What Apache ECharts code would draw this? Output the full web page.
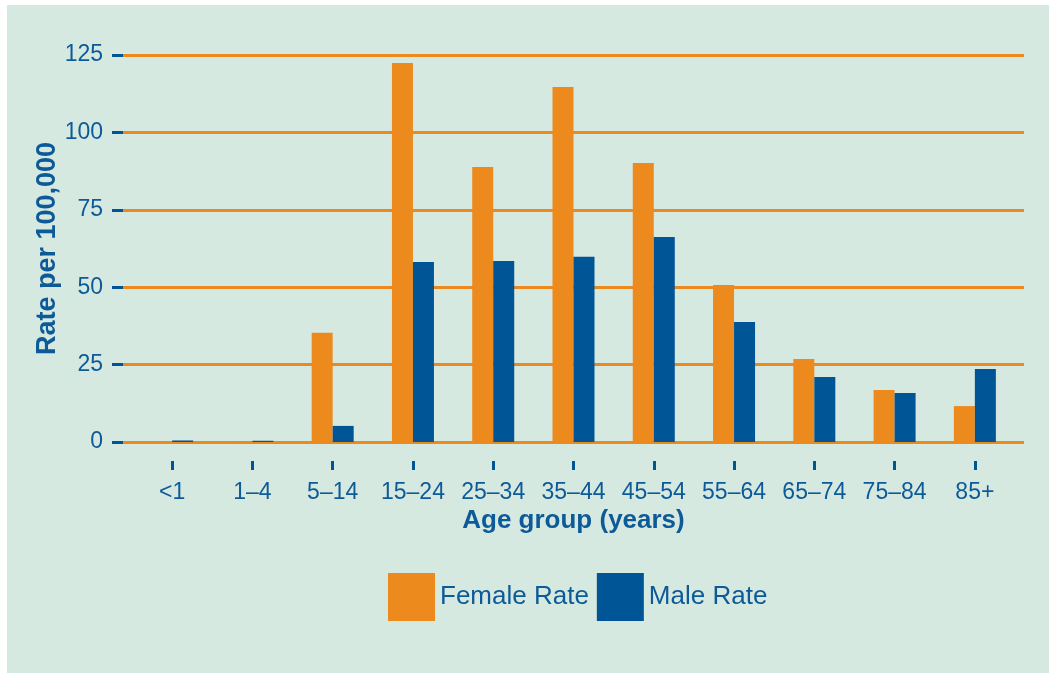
<!DOCTYPE html>
<html>
<head>
<meta charset="utf-8">
<script src="https://cdn.jsdelivr.net/npm/echarts@6/dist/echarts.min.js"></script>
<style>
  html, body { margin: 0; padding: 0; background: #ffffff; }
  #chart { width: 1049px; height: 673px; }
</style>
</head>
<body>
<div id="chart"></div>
<script>
// Age groups and rates per 100,000 population
const ageGroups = ['<1', '1\u20134', '5\u201314', '15\u201324', '25\u201334', '35\u201344', '45\u201354', '55\u201364', '65\u201374', '75\u201384', '85+'];
const femaleRate = [0.2, 0.1, 35.3, 122.4, 88.8, 114.7, 90.1, 50.7, 26.8, 16.8, 11.6];
const maleRate = [0.5, 0.4, 5.2, 58.1, 58.5, 59.8, 66.2, 38.8, 21.0, 15.8, 23.6];
const yTicks = [0, 25, 50, 75, 100, 125];

const ORANGE = '#ec8a1e';
const BLUE = '#005596';
const TEXT = '#0d5a98';
const FONT = '"Liberation Sans", Arial, sans-serif';

const chart = echarts.init(document.getElementById('chart'), null, { renderer: 'canvas' });

chart.setOption({
  backgroundColor: '#ffffff',
  animation: false,
  textStyle: { fontFamily: FONT },
  graphic: [{
    type: 'rect',
    z: -10,
    silent: true,
    shape: { x: 7, y: 5, width: 1042, height: 668 },
    style: { fill: '#d6e9e0' }
  }],
  legend: {
    left: 388,
    top: 573,
    padding: 0,
    itemWidth: 47,
    itemHeight: 48,
    itemGap: 8,
    icon: 'rect',
    textStyle: { fontSize: 26, color: TEXT, fontFamily: FONT, padding: [5, 0, 0, 0] },
    data: ['Female Rate', 'Male Rate']
  },
  grid: [
    // value scale and its horizontal rules
    { left: 123, right: 25, top: 55, bottom: 231 },
    // bars, inset from the rules on both sides
    { left: 132, right: 34, top: 55, bottom: 231 },
    // category ticks and labels, set a little below the zero rule
    { left: 132, right: 34, top: 74, bottom: 212 }
  ],
  xAxis: [
    { gridIndex: 0, type: 'value', min: 0, max: 1, show: false },
    { gridIndex: 1, type: 'category', data: ageGroups, show: false },
    {
      gridIndex: 2,
      type: 'category',
      data: ageGroups,
      axisLine: { show: false },
      axisTick: { show: true, alignWithLabel: true, length: 9, lineStyle: { color: BLUE, width: 3 } },
      axisLabel: { fontSize: 23, color: TEXT, margin: 20, fontFamily: FONT, interval: 0 },
      name: 'Age group (years)',
      nameLocation: 'middle',
      nameGap: 47,
      nameMoveOverlap: false,
      nameTextStyle: { fontSize: 26, fontWeight: 'bold', color: TEXT, fontFamily: FONT }
    }
  ],
  yAxis: [
    {
      gridIndex: 0,
      type: 'value',
      min: yTicks[0],
      max: yTicks[yTicks.length - 1],
      interval: 25,
      axisLine: { show: false },
      axisTick: { show: true, length: 11, lineStyle: { color: BLUE, width: 3 } },
      axisLabel: { fontSize: 23, color: TEXT, margin: 20, fontFamily: FONT },
      splitLine: { show: true, lineStyle: { color: ORANGE, width: 3 } },
      name: 'Rate per 100,000',
      nameLocation: 'middle',
      nameGap: 62,
      nameMoveOverlap: false,
      nameTextStyle: { fontSize: 27, fontWeight: 'bold', color: TEXT, fontFamily: FONT }
    },
    {
      gridIndex: 1,
      type: 'value',
      min: yTicks[0],
      max: yTicks[yTicks.length - 1],
      show: false
    },
    {
      gridIndex: 2,
      type: 'value',
      min: 0,
      max: 1,
      show: false
    }
  ],
  series: [
    {
      name: 'Female Rate',
      type: 'bar',
      xAxisIndex: 1,
      yAxisIndex: 1,
      data: femaleRate,
      barWidth: 21,
      barGap: '0%',
      itemStyle: { color: ORANGE }
    },
    {
      name: 'Male Rate',
      type: 'bar',
      xAxisIndex: 1,
      yAxisIndex: 1,
      data: maleRate,
      barWidth: 21,
      barGap: '0%',
      itemStyle: { color: BLUE }
    }
  ]
});
</script>
</body>
</html>
